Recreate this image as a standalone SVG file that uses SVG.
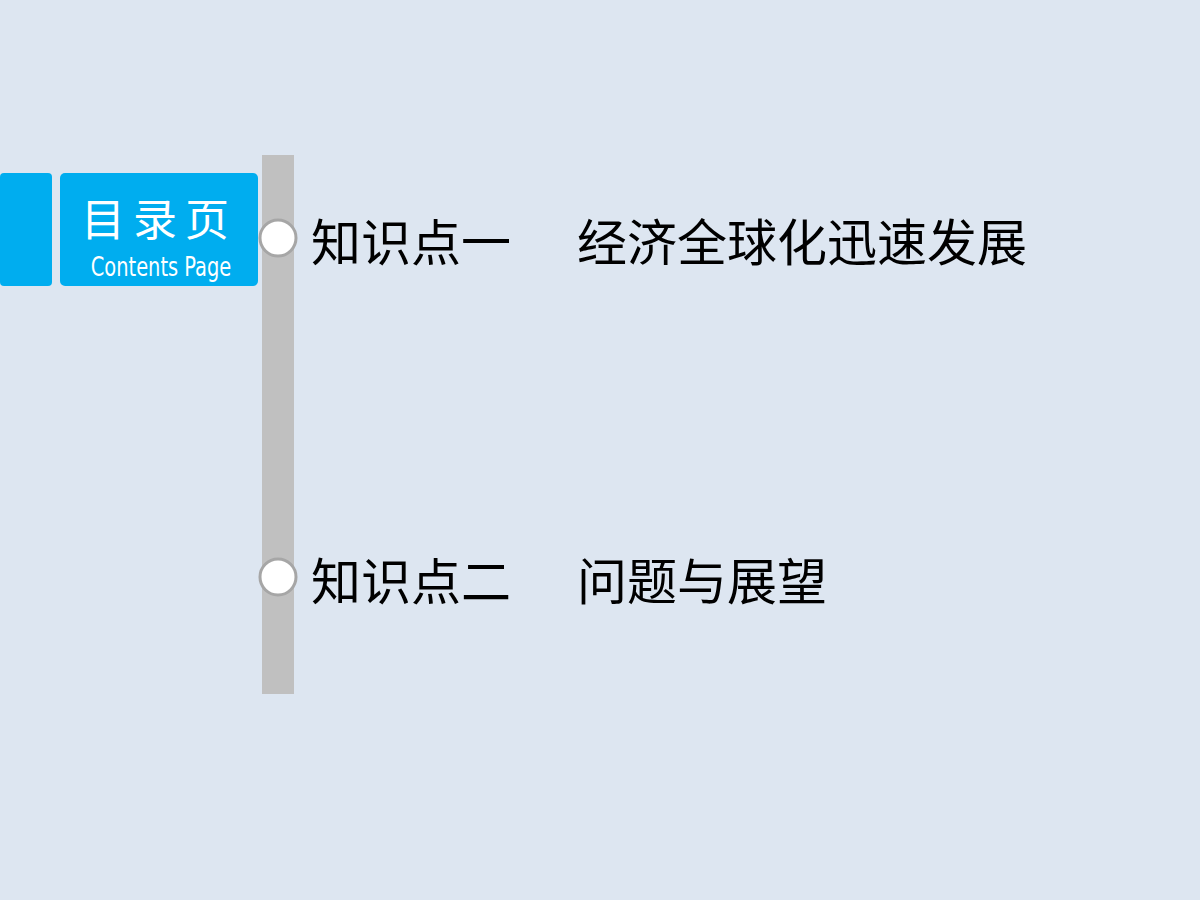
<svg xmlns="http://www.w3.org/2000/svg" width="1200" height="900" viewBox="0 0 1200 900">
<style>
.t{font-family:"Noto Sans CJK SC","Noto Sans",sans-serif;font-size:50px;fill:#000}
.b{fill:#00adef}
.c{fill:#fff;stroke:#a6a6a6;stroke-width:3}
</style>
<rect width="1200" height="900" fill="#dde6f1"/>
<g id="header">
<rect class="b" x="0" y="173" width="52" height="113" rx="4"/>
<rect class="b" x="60" y="173" width="198" height="113" rx="5"/>
<text x="159" y="236" text-anchor="middle" font-family="Noto Sans CJK SC,sans-serif" font-size="44" fill="#fff" letter-spacing="8">目录页</text>
<text x="161" y="276" text-anchor="middle" font-family="DejaVu Sans Condensed,Liberation Sans Narrow,sans-serif" font-size="27" fill="#fff" transform="translate(161 0) scale(0.8 1) translate(-161 0)">Contents Page</text>
</g>
<g id="connectors">
<rect x="262" y="155" width="32" height="539" fill="#c0c0c0"/>
</g>
<g id="item1">
<circle class="c" cx="278" cy="238" r="18"/>
<text class="t" x="311" y="261">知识点一</text>
<text class="t" x="577" y="261">经济全球化迅速发展</text>
</g>
<g id="item2">
<circle class="c" cx="278" cy="577" r="18"/>
<text class="t" x="311" y="600">知识点二</text>
<text class="t" x="577" y="600">问题与展望</text>
</g>
</svg>
